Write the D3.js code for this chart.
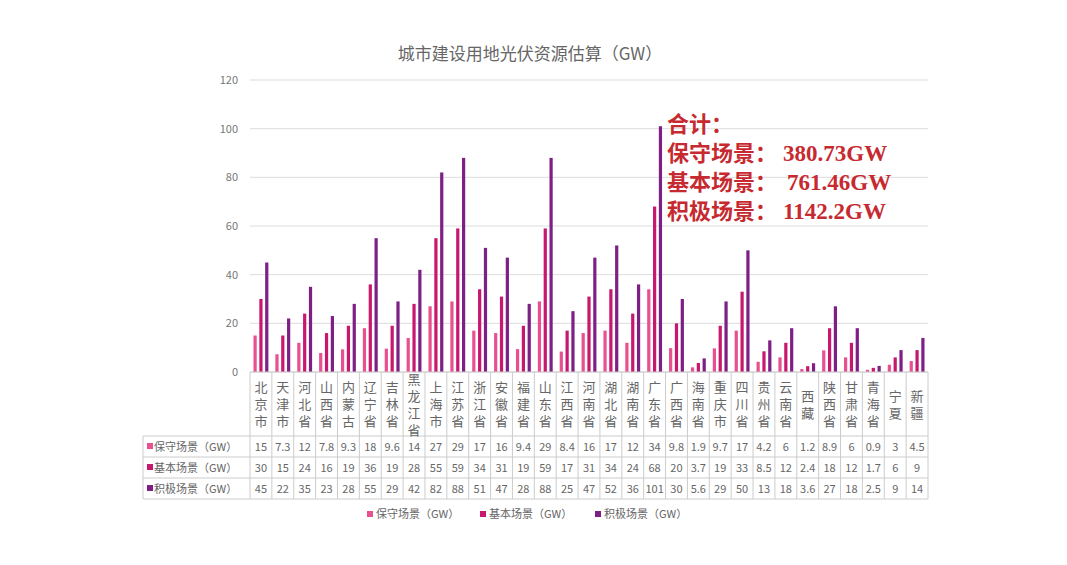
<!DOCTYPE html><html><head><meta charset="utf-8"><script src="https://cdn.jsdelivr.net/npm/d3@7"></script>
<style>body{margin:0;background:#fff}text{font-family:"Noto Sans CJK SC","Noto Sans",sans-serif}</style></head><body><svg id="c" width="1067" height="565"></svg><script>
const categories=["北京市","天津市","河北省","山西省","内蒙古","辽宁省","吉林省","黑龙江省","上海市","江苏省","浙江省","安徽省","福建省","山东省","江西省","河南省","湖北省","湖南省","广东省","广西省","海南省","重庆市","四川省","贵州省","云南省","西藏","陕西省","甘肃省","青海省","宁夏","新疆"];
const conservative=[15,7.3,12,7.8,9.3,18,9.6,14,27,29,17,16,9.4,29,8.4,16,17,12,34,9.8,1.9,9.7,17,4.2,6,1.2,8.9,6,0.9,3,4.5];
const basic=[30,15,24,16,19,36,19,28,55,59,34,31,19,59,17,31,34,24,68,20,3.7,19,33,8.5,12,2.4,18,12,1.7,6,9];
const active=[45,22,35,23,28,55,29,42,82,88,51,47,28,88,25,47,52,36,101,30,5.6,29,50,13,18,3.6,27,18,2.5,9,14];
const seriesNames=["保守场景（GW）","基本场景（GW）","积极场景（GW）"];
const yTicks=[0,20,40,60,80,100,120];
const colors=["#e8508f","#c8176f","#7e1f86"];
const data=[conservative,basic,active];
const svg=d3.select("#c");
const x=d3.scaleBand().domain(categories).range([250,928]);
const y=d3.scaleLinear().domain([0,120]).range([372,80]);
svg.append("text").attr("x",530).attr("y",60).attr("text-anchor","middle").attr("font-size",17).attr("fill","#666").text("城市建设用地光伏资源估算（GW）");
svg.selectAll(".g").data(yTicks).join("line").attr("x1",250).attr("x2",928).attr("y1",d=>y(d)).attr("y2",d=>y(d)).attr("stroke","#ddd");
svg.selectAll(".yl").data(yTicks).join("text").attr("x",238).attr("y",d=>y(d)+4).attr("text-anchor","end").attr("font-size",11).attr("fill","#777").text(d=>d);
const xs=d3.scaleBand().domain([0,1,2]).range([0,x.bandwidth()]).paddingInner(0.45).paddingOuter(0.6);
data.forEach((s,i)=>{svg.append("g").selectAll("rect").data(s).join("rect").attr("x",(d,j)=>x(categories[j])+xs(i)).attr("width",xs.bandwidth()).attr("y",d=>y(d)).attr("height",d=>y(0)-y(d)).attr("fill",colors[i]);});
const rowY=[436,457,478,499];const left=143;
const g=svg.append("g").attr("stroke","#ccc");
g.append("line").attr("x1",250).attr("x2",928).attr("y1",372).attr("y2",372);
rowY.forEach(r=>g.append("line").attr("x1",left).attr("x2",928).attr("y1",r).attr("y2",r));
g.append("line").attr("x1",left).attr("x2",left).attr("y1",436).attr("y2",499);
categories.concat(["end"]).forEach((c,j)=>{const xx=j<categories.length?x(c):928;g.append("line").attr("x1",xx).attr("x2",xx).attr("y1",372).attr("y2",499);});
categories.forEach(c=>{const chars=[...c];const n=chars.length;const cy=404-(n-1)*8.5;chars.forEach((ch,k)=>svg.append("text").attr("x",x(c)+x.bandwidth()/2).attr("y",cy+k*17+5).attr("text-anchor","middle").attr("font-size",13).attr("fill","#666").text(ch));});
data.forEach((s,i)=>{const ry=rowY[i]+15;svg.append("rect").attr("x",left+4).attr("y",ry-8).attr("width",6).attr("height",6).attr("fill",colors[i]);
svg.append("text").attr("x",left+11).attr("y",ry).attr("font-size",11).attr("fill","#666").text(seriesNames[i]);
s.forEach((v,j)=>svg.append("text").attr("x",x(categories[j])+x.bandwidth()/2).attr("y",ry).attr("text-anchor","middle").attr("font-size",11).attr("fill","#666").text(v));});
const lx=[367,480,595];
seriesNames.forEach((n,i)=>{svg.append("rect").attr("x",lx[i]).attr("y",511).attr("width",6).attr("height",6).attr("fill",colors[i]);svg.append("text").attr("x",lx[i]+9).attr("y",518).attr("font-size",11).attr("fill","#666").text(n);});
const ann=[["合计：",""],["保守场景：","380.73GW"],["基本场景：","761.46GW"],["积极场景：","1142.2GW"]];
ann.forEach((a,i)=>{const t=svg.append("text").attr("x",667).attr("y",132+i*29).attr("font-size",22).attr("font-weight","bold").attr("fill","#c62a30").attr("font-family","'Noto Sans CJK SC',serif");t.append("tspan").text(a[0]);t.append("tspan").attr("dx",i==2?10:6).attr("font-family","'Liberation Serif',serif").attr("font-size",23).text(a[1]);});
</script></body></html>
